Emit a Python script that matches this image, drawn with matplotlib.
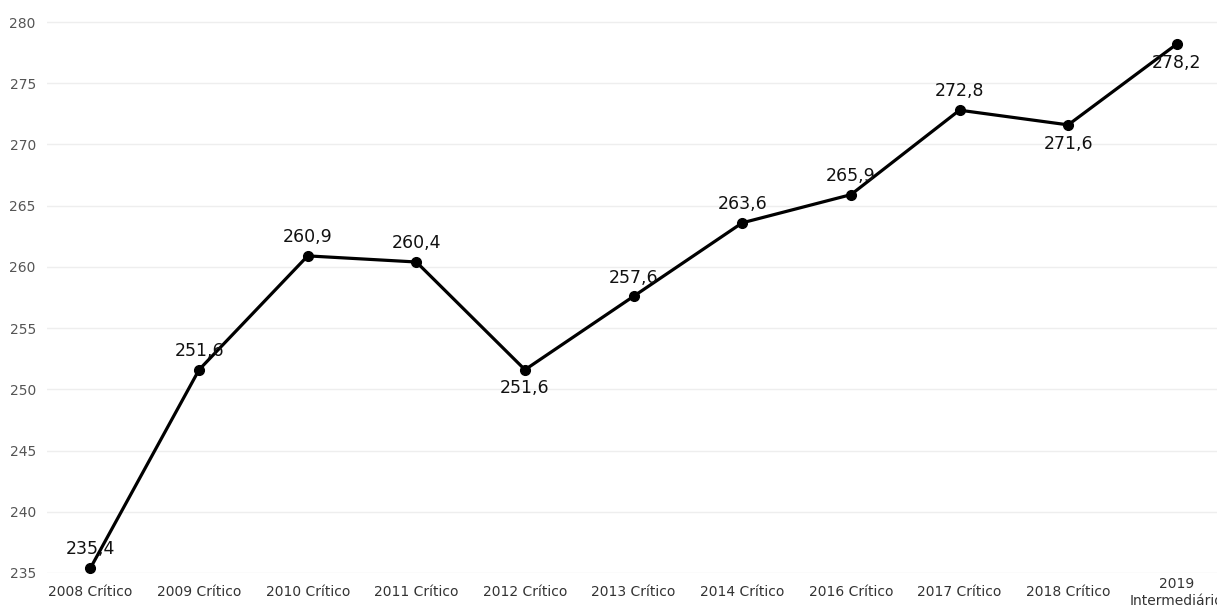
import matplotlib.pyplot as plt

categories = ["2008 Crítico", "2009 Crítico", "2010 Crítico", "2011 Crítico",
              "2012 Crítico", "2013 Crítico", "2014 Crítico", "2016 Crítico",
              "2017 Crítico", "2018 Crítico", "2019\nIntermediário"]
values = [235.4, 251.6, 260.9, 260.4, 251.6, 257.6, 263.6, 265.9, 272.8, 271.6, 278.2]
label_above = [True, True, True, True, False, True, True, True, True, False, False]
yticks = [235, 240, 245, 250, 255, 260, 265, 270, 275, 280]

fig = plt.figure(figsize=(12.17, 6.15), dpi=100)
ax = fig.add_axes([0.0386, 0.0683, 0.9614, 0.9154])

x = list(range(len(categories)))
ax.plot(x, values, color="black", linewidth=2.3, marker="o", markersize=7,
        clip_on=False, zorder=3)

for xi, v, above in zip(x, values, label_above):
    txt = f"{v:.1f}".replace(".", ",")
    ax.annotate(txt, (xi, v), xytext=(0, 7 if above else -7),
                textcoords="offset points", ha="center",
                va="bottom" if above else "top", fontsize=12.5,
                color="#111111")

ax.set_xlim(-0.4, 10.37)
ax.set_ylim(235, 280.98)
ax.set_xticks(x)
ax.set_xticklabels(categories, fontsize=10, color="#333333", linespacing=1.35,
                   va="center")
ax.set_yticks(yticks)
ax.set_yticklabels([str(t) for t in yticks], fontsize=10, color="#555555")
ax.tick_params(axis="both", length=0)
ax.tick_params(axis="x", pad=14)
ax.tick_params(axis="y", pad=8)
ax.grid(axis="y", color="#eeeeee", linewidth=1)
ax.set_axisbelow(True)
for s in ax.spines.values():
    s.set_visible(False)

fig.savefig("out.png", dpi=100)
